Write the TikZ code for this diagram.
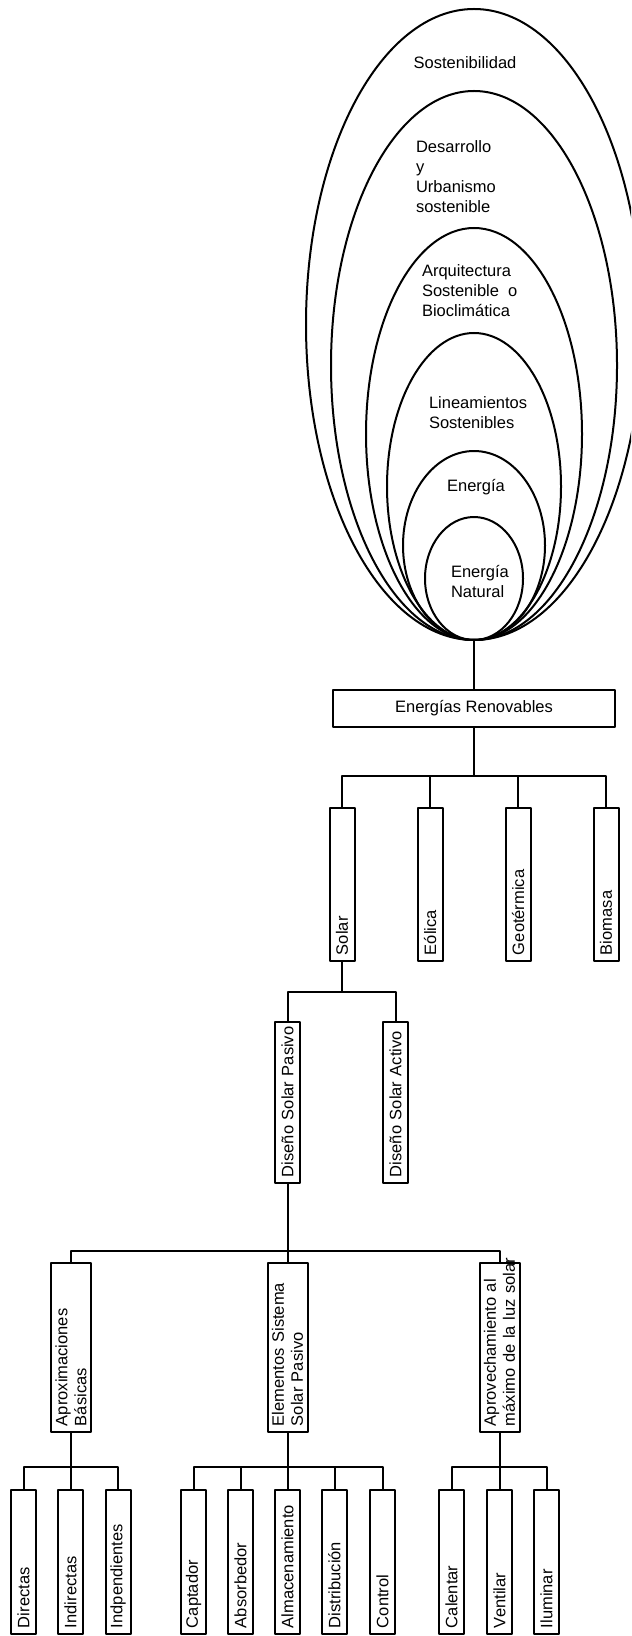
\documentclass[tikz,border=0pt]{standalone}
\usepackage{fontspec}
\setmainfont{Liberation Sans}
\tikzset{
  caja/.style={draw, rotate=90, inner ysep=0pt, inner xsep=3pt, align=left},
  fila1/.style={caja, text width=70.5pt, minimum height=12.5pt},
  fila2/.style={caja, text width=74.5pt, minimum height=12.5pt},
  fila3/.style={caja, text width=78.5pt, minimum height=20pt, font=\fontsize{8.25}{9.5}\selectfont},
  hoja/.style={caja, text width=66pt, minimum height=12.5pt},
  rotulo/.style={inner sep=0pt, align=left}
}
\begin{document}
\begin{tikzpicture}[x=0.5pt, y=-0.5pt, line width=1pt, font=\fontsize{8.25}{10}\selectfont, line join=round]
		\clip (0,0) rectangle (631,1636);
		% elipses concentricas
		\foreach \t/\r in {9/168, 91/143, 228/108, 333/87, 451/71, 517/49}
			\draw (474,{(\t+640)/2}) ellipse [x radius=\r, y radius={(640-\t)/2}];
		\node[rotulo] (sost) at (465,63) {Sostenibilidad};
		\node[rotulo, anchor=west] (desa) at (415,177) {Desarrollo\\y\\Urbanismo\\sostenible};
		\node[rotulo, anchor=west] (arq) at (421,291) {Arquitectura\\Sostenible~ o\\Bioclimática};
		\node[rotulo, anchor=west] (lin) at (428,413) {Lineamientos\\Sostenibles};
		\node[rotulo] (ene) at (476,487) {Energía};
		\node[rotulo, anchor=west] (nat) at (450,582) {Energía\\Natural};
		\coordinate (fondo) at (474,640);
		% arbol
		\node[draw, minimum width=141pt, minimum height=18.5pt, inner sep=0pt] (ren) at (474,708.5) {Energías Renovables};
		\draw (fondo) -- (ren.north);
		\coordinate (b1) at (474,776);
		\draw (ren.south) -- (b1);
		\foreach \x/\n/\txt in {342/sol/Solar, 430/eol/Eólica, 518/geo/Geotérmica, 606/bio/Biomasa}{
			\node[fila1] (\n) at (\x,884.5) {\mbox{\txt}};
			\draw (b1) -| (\n.east);
		}
		\coordinate (b2) at (342,992);
		\draw (sol.west) -- (b2);
		\node[fila2] (dsp) at (287.5,1102.5) {\mbox{Diseño Solar Pasivo}};
		\node[fila2] (dsa) at (395.5,1102.5) {\mbox{Diseño Solar Activo}};
		\draw (b2) -| (dsp.east);
		\draw (b2) -| (dsa.east);
		\coordinate (b3) at (287.5,1251);
		\draw (dsp.west) -- (b3);
		\node[fila3] (apb) at (71,1347.5) {\mbox{Aproximaciones}\\\mbox{Básicas}};
		\node[fila3] (ele) at (287.5,1347.5) {\mbox{Elementos Sistema}\\\mbox{Solar Pasivo}};
		\node[fila3] (apr) at (499.5,1347.5) {\mbox{Aprovechamiento al}\\\mbox{máximo de la luz solar}};
		\foreach \n in {apb,ele,apr}
			\draw (b3) -| (\n.east);
		\coordinate (c1) at (71,1467);
		\coordinate (c2) at (287.5,1467);
		\coordinate (c3) at (499.5,1467);
		\draw (apb.west) -- (c1);
		\draw (ele.west) -- (c2);
		\draw (apr.west) -- (c3);
		\foreach \x/\n/\txt/\c in {23.5/dir/Directas/c1, 70.5/ind/Indirectas/c1, 118/inp/Indpendientes/c1,
			193.5/cap/Captador/c2, 240.5/abs/Absorbedor/c2, 287.5/alm/Almacenamiento/c2, 334.5/dis/Distribución/c2, 382.5/con/Control/c2,
			451.5/cal/Calentar/c3, 499.5/ven/Ventilar/c3, 546.5/ilu/Iluminar/c3}{
			\node[hoja] (\n) at (\x,1562) {\mbox{\txt}};
			\draw (\c) -| (\n.east);
		}
\end{tikzpicture}
\end{document}
